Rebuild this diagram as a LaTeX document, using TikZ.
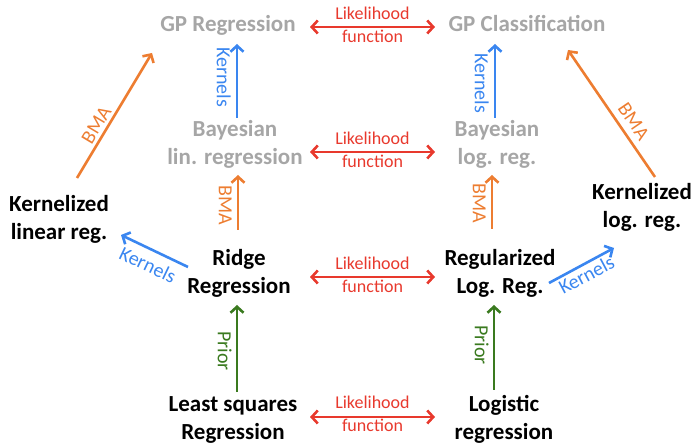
\documentclass[tikz,border=0pt]{standalone}
\usepackage{fontspec}
\setmainfont{Carlito}
\usetikzlibrary{arrows.meta}
\definecolor{cgrey}{RGB}{166,166,166}
\definecolor{cred}{RGB}{232,57,45}
\definecolor{corange}{RGB}{237,125,49}
\definecolor{cblue}{RGB}{58,134,240}
\definecolor{cgreen}{RGB}{58,122,31}
\begin{document}
\begin{tikzpicture}[x=1pt,y=1pt,
  big/.style={font=\fontsize{23}{28}\selectfont\bfseries, align=center, inner sep=2pt, anchor=base},
  gnode/.style={big, text=cgrey},
  bnode/.style={big, text=black},
  tipb/.tip={Straight Barb[length=6pt,width=13pt]},
  conn/.style={line width=2.6pt, -tipb},
  likarrow/.style={line width=2.6pt, tipb-tipb, cred},
  liklabel/.style={font=\fontsize{18}{23}\selectfont, text=cred, align=center, anchor=base, inner sep=0pt, yshift=-16pt},
  lbl/.style={font=\fontsize{20}{24}\selectfont},
  kern/.style={conn, cblue},
  bma/.style={conn, corange},
  prior/.style={conn, cgreen},
  vlabel/.style={lbl, rotate=-90, anchor=north}
]
\useasboundingbox (0,0) rectangle (694,443);
% nodes (base = baseline of the last line)
\node[gnode] (gpr) at (228,411) {GP Regression};
\node[gnode] (gpc) at (527,411) {GP Classification};
\node[gnode] (blr) at (235,278) {Bayesian\\lin. regression};
\node[gnode] (blg) at (497,278) {Bayesian\\log. reg.};
\node[bnode] (klr) at (59,203) {Kernelized\\linear reg.};
\node[bnode] (klg) at (642,215) {Kernelized\\log. reg.};
\node[bnode] (ridge) at (239,149) {Ridge\\Regression};
\node[bnode] (reglog) at (500,149) {Regularized\\Log. Reg.};
\node[bnode] (lsq) at (233,3) {Least squares\\Regression};
\node[bnode] (logr) at (504,3) {Logistic\\regression};
% likelihood arrows
\draw[likarrow] ([shift={(82,5)}]gpr.base) -- node[liklabel] {Likelihood\\function} ([shift={(-92,5)}]gpc.base);
\draw[likarrow] ([shift={(75,13)}]blr.base) -- node[liklabel] {Likelihood\\function} ([shift={(-62,13)}]blg.base);
\draw[likarrow] ([shift={(71,17)}]ridge.base) -- node[liklabel] {Likelihood\\function} ([shift={(-65,17)}]reglog.base);
\draw[likarrow] ([shift={(77,23)}]lsq.base) -- node[liklabel, yshift=1pt] {Likelihood\\function} ([shift={(-69,23)}]logr.base);
% kernels vertical
\draw[kern] ([shift={(2,47)}]blr.base) -- node[pos=0.55, vlabel, inner sep=5pt, text=cblue] {Kernels} ([shift={(9,-12)}]gpr.base);
\draw[kern] ([shift={(-2,47)}]blg.base) -- node[pos=0.47, vlabel, inner sep=5pt, text=cblue] {Kernels} ([shift={(-32,-12)}]gpc.base);
% BMA vertical
\draw[bma] ([shift={(-1,64)}]ridge.base) -- node[pos=0.45, vlabel, inner sep=5pt, text=corange] {BMA} ([shift={(3,-10)}]blr.base);
\draw[bma] ([shift={(-8,65)}]reglog.base) -- node[pos=0.47, vlabel, inner sep=5pt, text=corange] {BMA} ([shift={(-5,-10)}]blg.base);
% Prior
\draw[prior] ([shift={(4,48)}]lsq.base) -- node[pos=0.47, vlabel, inner sep=4pt, text=cgreen] {Prior} ([shift={(-2,-11)}]ridge.base);
\draw[prior] ([shift={(-10,50)}]logr.base) -- node[pos=0.53, vlabel, inner sep=4pt, text=cgreen] {Prior} ([shift={(-6,-11)}]reglog.base);
% BMA diagonal
\draw[bma] ([shift={(18,62)}]klr.base) -- node[pos=0.38, lbl, sloped, above, inner sep=3pt, text=corange] {BMA} ([shift={(-76,-21)}]gpr.base);
\draw[bma] ([shift={(13,51)}]klg.base) -- node[pos=0.375, lbl, sloped, above, inner sep=6pt, text=corange] {BMA} ([shift={(41,-18)}]gpc.base);
% Kernels diagonal
\draw[kern] ([shift={(-51,27)}]ridge.base) -- node[midway, lbl, sloped, below, inner sep=7pt, text=cblue] {Kernels} ([shift={(62,5)}]klr.base);
\draw[kern] ([shift={(49,11)}]reglog.base) -- node[midway, lbl, sloped, below, inner sep=2pt, text=cblue] {Kernels} ([shift={(-28,-20)}]klg.base);
\end{tikzpicture}
\end{document}
